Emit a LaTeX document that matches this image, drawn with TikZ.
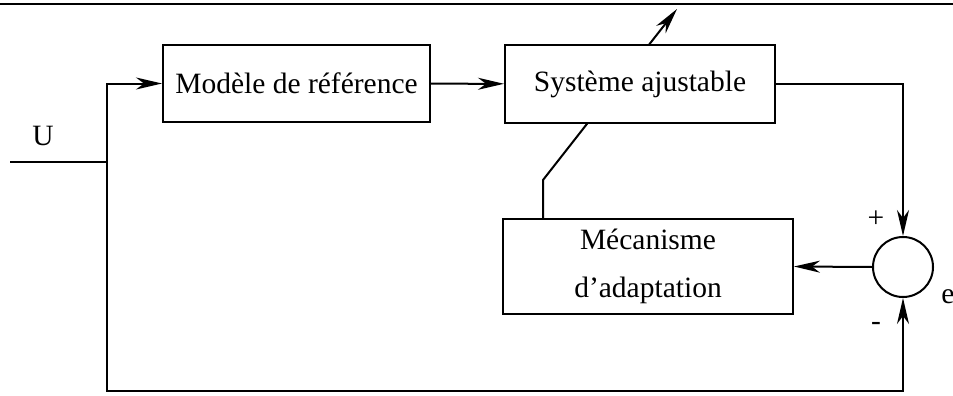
\documentclass[tikz,border=0pt]{standalone}
\usepackage{fontspec}
\setmainfont{Liberation Serif}
\usetikzlibrary{arrows.meta,backgrounds}
\begin{document}
\begin{tikzpicture}[x=1pt,y=-1pt,
  >={Stealth[length=26pt,width=12pt,inset=8pt]},
  every path/.style={line width=2pt},
  blockbox/.style={draw,fill=white,inner sep=0pt,font=\fontsize{29.5}{48}\selectfont,align=center},
  sumnode/.style={draw,fill=white,circle,minimum size=60pt,inner sep=0pt},
  lbl/.style={font=\fontsize{29.5}{34}\selectfont,inner sep=0pt}]
\useasboundingbox (0,0) rectangle (953,396);
% rule across the top
\draw[line width=2.6pt] (0,4) -- (953,4);
% blocks
\node[blockbox,minimum width=267pt,minimum height=77pt] (modele) at (296.5,83.5) {Modèle de référence};
\node[blockbox,minimum width=270pt,minimum height=78pt] (systeme) at (640,84) {Système ajustable};
\node[blockbox,minimum width=290pt,minimum height=95pt] (meca) at (648,266.5) {Mécanisme\\d’adaptation};
\node[sumnode] (sum) at (903,267) {};
% junction points
\coordinate (uin) at (10,162);
\coordinate (split) at (107,162);
\coordinate (low) at (107,391);
\coordinate (adjfoot) at (543,219);
\coordinate (adjbend) at (543,180);
\coordinate (adjtip) at (677,9);
% labels
\node[lbl] (ulab) at (43,136) {U};
\node[lbl] (plus) at (876,219) {+};
\node[lbl] (minus) at (876,326) {-};
\node[lbl] (elab) at (948,297) {e};
% connectors
\draw (uin) -- (split);
\draw[->] (split) |- (modele.west);
\draw[->] (modele) -- (systeme);
\draw[->] (systeme.east) -| (sum.north);
\draw[->] (split) -- (low) -| (sum.south);
\draw[->] (sum.west) -- (meca.east);
% adjustment arrow passing behind the adjustable system
\begin{scope}[on background layer]
\draw[->,line width=2pt] (adjfoot) -- (adjbend) -- (adjtip);
\end{scope}
\end{tikzpicture}
\end{document}
